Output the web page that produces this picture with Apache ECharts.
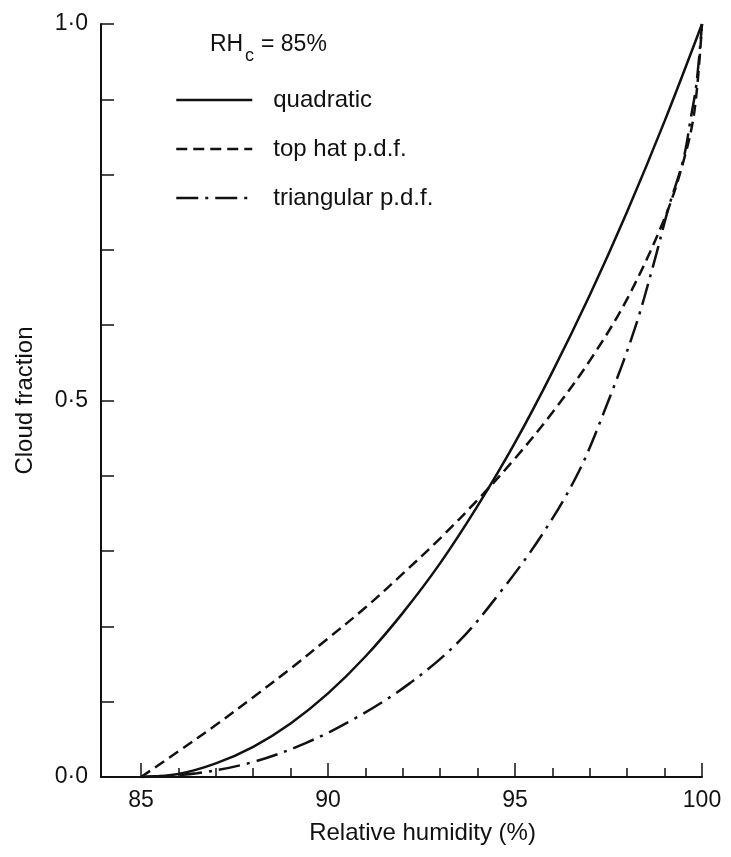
<!DOCTYPE html>
<html>
<head>
<meta charset="utf-8">
<script src="https://cdn.jsdelivr.net/npm/echarts@6/dist/echarts.min.js"></script>
<style>
html,body{margin:0;padding:0;background:#fff;}
#c{width:731px;height:857px;}
</style>
</head>
<body>
<div id="c"></div>
<script>
// ---- data ----
const seriesNames = ['quadratic', 'top hat p.d.f.', 'triangular p.d.f.'];

const rhQuad = [85, 86, 87, 88, 89, 90, 91, 92, 93, 94, 95, 96, 97, 98, 99, 100];
const cQuad  = [0, 0.004, 0.018, 0.04, 0.071, 0.111, 0.16, 0.218, 0.284, 0.36, 0.444, 0.538, 0.64, 0.751, 0.871, 1.0];

const rhTopHat = [85, 86, 87, 88, 89, 90, 91, 92, 93, 94, 95, 96, 97, 98, 99, 99.5, 99.8, 100];
const cTopHat  = [0, 0.034, 0.069, 0.106, 0.144, 0.184, 0.225, 0.27, 0.317, 0.368, 0.423, 0.484, 0.553, 0.635, 0.742, 0.817, 0.885, 1.0];

const rhTri = [85, 86.5, 88, 89.4, 90.8, 92.2, 93.5, 94.6, 95.7, 96.7, 97.5, 98.2, 98.7, 99.1, 99.5, 99.7, 99.85, 100];
const cTri  = [0, 0.005, 0.02, 0.045, 0.08, 0.125, 0.18, 0.245, 0.32, 0.405, 0.5, 0.595, 0.68, 0.755, 0.82, 0.875, 0.92, 1.0];

const xMinorTicks = [85, 86, 87, 88, 89, 90, 91, 92, 93, 94, 95, 96, 97, 98, 99, 100];
const xMajorTicks = [85, 90, 95, 100];
const xLabelValues = [85, 90, 95, 100];
const yLabelValues = [0, 0.5, 1];

const criticalRH = '85%';

// ---- chart ----
const zip = (xs, ys) => xs.map((x, i) => [x, ys[i]]);
const ink = '#111';
const font = '"Liberation Sans", Arial, sans-serif';

const chart = echarts.init(document.getElementById('c'), null, {renderer: 'canvas'});

const xCommon = {
  type: 'value', min: 83.93, max: 100, position: 'bottom',
  splitLine: {show: false}
};

function lineSeries(i, xs, ys, dash) {
  return {
    name: seriesNames[i], type: 'line', xAxisIndex: 0,
    data: zip(xs, ys), smooth: 0.35,
    symbol: 'none', showSymbol: false,
    lineStyle: {color: ink, width: 2.5, type: dash}, itemStyle: {color: ink}
  };
}

chart.setOption({
  backgroundColor: '#fff',
  animation: false,
  textStyle: {fontFamily: font, color: ink},
  grid: {left: 101, right: 29, top: 24, bottom: 80, containLabel: false},
  xAxis: [
    Object.assign({}, xCommon, {
      axisLine: {show: true, onZero: false, lineStyle: {color: ink, width: 2}},
      axisTick: {show: true, inside: true, length: 9, customValues: xMinorTicks, lineStyle: {color: ink, width: 1.5}},
      axisLabel: {show: true, customValues: xLabelValues, fontSize: 23, margin: 12, color: ink, fontFamily: font},
      name: 'Relative humidity (%)',
      nameLocation: 'middle',
      nameGap: 44,
      nameTextStyle: {fontSize: 24, color: ink, fontFamily: font, padding: [0, 0, 0, 42]}
    }),
    Object.assign({}, xCommon, {
      axisLine: {show: false, onZero: false},
      axisTick: {show: true, inside: true, length: 14, customValues: xMajorTicks, lineStyle: {color: ink, width: 1.5}},
      axisLabel: {show: false}
    })
  ],
  yAxis: {
    type: 'value', min: 0, max: 1, interval: 0.1,
    splitLine: {show: false},
    axisLine: {show: true, onZero: false, lineStyle: {color: ink, width: 2}},
    axisTick: {show: true, inside: true, length: 13, lineStyle: {color: ink, width: 1.5}},
    axisLabel: {
      fontSize: 23, margin: 13, color: ink, fontFamily: font,
      formatter: function (v) {
        for (const t of yLabelValues) {
          if (Math.abs(v - t) < 1e-6) return t.toFixed(1).replace('.', '\u00B7');
        }
        return '';
      }
    },
    name: 'Cloud fraction',
    nameLocation: 'middle',
    nameRotate: 90,
    nameGap: 64,
    nameTextStyle: {fontSize: 24, color: ink, fontFamily: font}
  },
  legend: {
    orient: 'vertical',
    left: 170, top: 83,
    itemWidth: 76, itemHeight: 26, itemGap: 25,
    itemStyle: {opacity: 0},
    lineStyle: {width: 2.5},
    textStyle: {fontSize: 24, color: ink, fontFamily: font, padding: [0, 0, 0, 16]},
    data: seriesNames.map(n => ({name: n}))
  },
  graphic: [
    {type: 'text', left: 210, top: 33, style: {text: 'RH', fontSize: 23, fontFamily: font, fill: ink}},
    {type: 'text', left: 245, top: 47, style: {text: 'c', fontSize: 18, fontFamily: font, fill: ink}},
    {type: 'text', left: 261, top: 33, style: {text: '= ' + criticalRH, fontSize: 23, fontFamily: font, fill: ink}}
  ],
  series: [
    lineSeries(0, rhQuad, cQuad, 'solid'),
    lineSeries(1, rhTopHat, cTopHat, [11, 6]),
    lineSeries(2, rhTri, cTri, [22, 7, 3, 7])
  ]
});
</script>
</body>
</html>
